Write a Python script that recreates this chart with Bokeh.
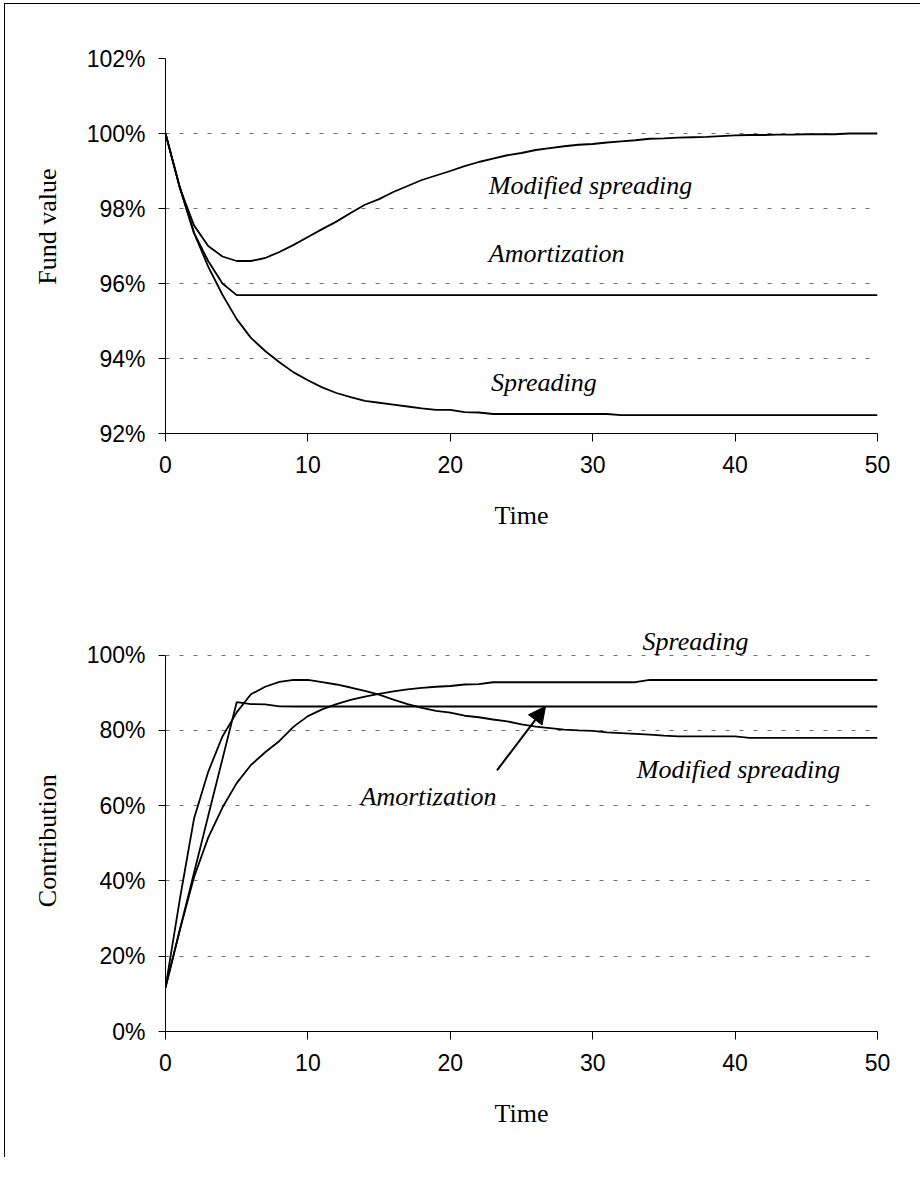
from bokeh.plotting import figure
from bokeh.models import Range1d, FixedTicker, PrintfTickFormatter, Label, Arrow, NormalHead
from bokeh.layouts import column
from bokeh.embed import file_html
from bokeh.resources import INLINE

# ---------------- data ----------------
time = list(range(51))

x_ticks = [0, 10, 20, 30, 40, 50]
fund_ticks = [92, 94, 96, 98, 100, 102]
contrib_ticks = [0, 20, 40, 60, 80, 100]

# Fund value (%)
fund_modified = [100.0, 98.56, 97.55, 97.0, 96.72, 96.6, 96.6, 96.68, 96.84, 97.03,
                 97.24, 97.45, 97.65, 97.88, 98.1, 98.25, 98.44, 98.6, 98.76, 98.88,
                 99.0, 99.13, 99.24, 99.33, 99.42, 99.48, 99.56, 99.61, 99.66, 99.7,
                 99.72, 99.76, 99.79, 99.82, 99.86, 99.87, 99.89, 99.9, 99.91, 99.93,
                 99.95, 99.96, 99.96, 99.97, 99.97, 99.98, 99.98, 99.98, 100.0, 100.0,
                 100.0]
fund_amortization = [100.0, 98.57, 97.35, 96.6, 96.0, 95.69, 95.69, 95.69, 95.69, 95.69,
                     95.69, 95.69, 95.69, 95.69, 95.69, 95.69, 95.69, 95.69, 95.69, 95.69,
                     95.69, 95.69, 95.69, 95.69, 95.69, 95.69, 95.69, 95.69, 95.69, 95.69,
                     95.69, 95.69, 95.69, 95.69, 95.69, 95.69, 95.69, 95.69, 95.69, 95.69,
                     95.69, 95.69, 95.69, 95.69, 95.69, 95.69, 95.69, 95.69, 95.69, 95.69,
                     95.69]
fund_spreading = [100.0, 98.57, 97.35, 96.45, 95.7, 95.05, 94.55, 94.2, 93.9, 93.63,
                  93.42, 93.23, 93.08, 92.97, 92.87, 92.82, 92.77, 92.72, 92.67, 92.63,
                  92.63, 92.57, 92.56, 92.52, 92.52, 92.52, 92.52, 92.52, 92.52, 92.52,
                  92.52, 92.52, 92.49, 92.49, 92.49, 92.49, 92.49, 92.49, 92.49, 92.49,
                  92.49, 92.49, 92.49, 92.49, 92.49, 92.49, 92.49, 92.49, 92.49, 92.49,
                  92.49]

# Contribution (%)
contrib_modified = [11.7, 35.0, 56.5, 69.0, 78.4, 84.8, 89.6, 91.6, 92.9, 93.4,
                    93.4, 92.8, 92.2, 91.4, 90.5, 89.5, 88.2, 87.0, 86.0, 85.2,
                    84.7, 83.9, 83.5, 82.9, 82.4, 81.6, 81.0, 80.6, 80.2, 80.0,
                    79.9, 79.5, 79.3, 79.1, 78.9, 78.6, 78.4, 78.4, 78.4, 78.4,
                    78.4, 78.0, 78.0, 78.0, 78.0, 78.0, 78.0, 78.0, 78.0, 78.0,
                    78.0]
contrib_amortization = [11.7, 26.9, 42.1, 57.3, 72.4, 87.5, 87.0, 86.9, 86.4, 86.35,
                        86.35, 86.35, 86.35, 86.35, 86.35, 86.35, 86.35, 86.35, 86.35, 86.35,
                        86.35, 86.35, 86.35, 86.35, 86.35, 86.35, 86.35, 86.35, 86.35, 86.35,
                        86.35, 86.35, 86.35, 86.35, 86.35, 86.35, 86.35, 86.35, 86.35, 86.35,
                        86.35, 86.35, 86.35, 86.35, 86.35, 86.35, 86.35, 86.35, 86.35, 86.35,
                        86.35]
contrib_spreading = [11.7, 26.9, 41.0, 51.5, 59.5, 66.0, 70.8, 74.2, 77.2, 81.0,
                     83.8, 85.6, 87.0, 88.1, 89.0, 89.7, 90.4, 90.9, 91.3, 91.6,
                     91.8, 92.2, 92.3, 92.8, 92.8, 92.8, 92.8, 92.8, 92.8, 92.8,
                     92.8, 92.8, 92.8, 92.8, 93.4, 93.4, 93.4, 93.4, 93.4, 93.4,
                     93.4, 93.4, 93.4, 93.4, 93.4, 93.4, 93.4, 93.4, 93.4, 93.4,
                     93.4]

SANS = "Liberation Sans"
SERIF = "Liberation Serif"


def make_fig(height, top, bottom, y_lo, y_hi, y_ticks, y_label):
    p = figure(width=915, height=height,
               x_range=Range1d(0, 50), y_range=Range1d(y_lo, y_hi),
               output_backend="svg", toolbar_location=None,
               min_border_left=160, min_border_right=43,
               min_border_top=top, min_border_bottom=bottom)
    p.outline_line_color = None
    p.background_fill_color = "white"
    p.border_fill_color = "white"
    p.xgrid.visible = False
    p.ygrid.ticker = FixedTicker(ticks=y_ticks)
    p.ygrid.grid_line_color = "#707070"
    p.ygrid.grid_line_dash = "4 10"
    p.ygrid.grid_line_width = 1

    p.xaxis.ticker = FixedTicker(ticks=x_ticks)
    p.yaxis.ticker = FixedTicker(ticks=y_ticks)
    p.yaxis.bounds = (y_ticks[0], y_ticks[-1])
    p.yaxis.formatter = PrintfTickFormatter(format="%d%%")
    for ax in (p.xaxis[0], p.yaxis[0]):
        ax.axis_line_color = "black"
        ax.axis_line_width = 1
        ax.major_tick_line_color = "black"
        ax.major_tick_in = 0
        ax.minor_tick_line_color = None
        ax.major_label_text_font = SANS
        ax.major_label_text_font_size = "23px"
        ax.major_label_text_color = "black"
        ax.axis_label_text_font = SERIF
        ax.axis_label_text_font_style = "normal"
        ax.axis_label_text_font_size = "26px"
        ax.axis_label_text_color = "black"
    p.xaxis.major_tick_out = 8
    p.yaxis.major_tick_out = 7
    p.xaxis.major_label_standoff = 14
    p.yaxis.major_label_standoff = 13
    p.xaxis.axis_label = "Time"
    p.xaxis.axis_label_standoff = 25
    p.yaxis.axis_label = y_label
    p.yaxis.axis_label_standoff = 22
    return p


def add_label(p, text, x, y):
    p.add_layout(Label(x=x, y=y, text=text, text_font=SERIF,
                       text_font_size="26px", text_font_style="italic",
                       text_color="black", text_align="left",
                       text_baseline="alphabetic"))


# ---------------- top chart ----------------
p1 = make_fig(552, 54, 123, 92, 102, fund_ticks, "\u00a0" * 6 + "Fund value")
for series in (fund_modified, fund_amortization, fund_spreading):
    p1.line(time, series, line_color="black", line_width=1.8)
add_label(p1, "Modified spreading", 22.7, 98.61)
add_label(p1, "Amortization", 22.7, 96.79)
add_label(p1, "Spreading", 22.85, 93.37)

# ---------------- bottom chart ----------------
# y range extends above 100% so the "Spreading" label fits inside the frame
p2 = make_fig(601, 61, 126, 0, 110, contrib_ticks, "Contribution" + "\u00a0" * 5)
for series in (contrib_modified, contrib_amortization, contrib_spreading):
    p2.line(time, series, line_color="black", line_width=1.8)
add_label(p2, "Spreading", 33.5, 103.5)
add_label(p2, "Modified spreading", 33.1, 69.6)
add_label(p2, "Amortization", 13.7, 62.35)
p2.add_layout(Arrow(end=NormalHead(size=17, fill_color="black", line_color="black"),
                    x_start=23.28, y_start=69.4, x_end=26.69, y_end=86.4,
                    line_color="black", line_width=2))

layout = column(p1, p2, styles={"border-left": "1px solid black",
                                "border-top": "1px solid black",
                                "margin-left": "4px",
                                "margin-top": "3px"})

open("out.html", "w").write(file_html(layout, INLINE))
